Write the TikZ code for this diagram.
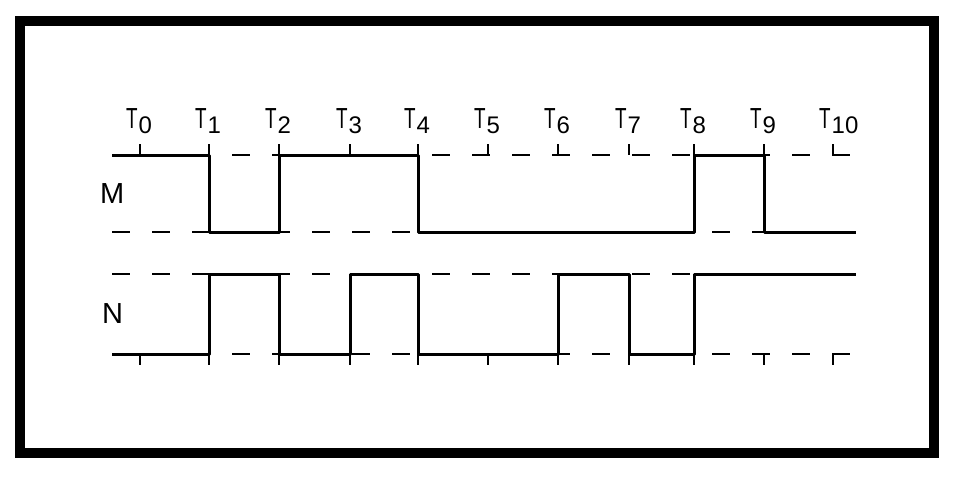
\documentclass[tikz,border=0pt]{standalone}
\usepackage{graphicx}
\usepackage{fontspec}
\setmainfont{Liberation Sans}
\newcommand{\Tlab}[1]{\scalebox{0.65}[1]{T}\kern1pt\raisebox{-5pt}{\fontsize{24}{24}\selectfont #1}}
\begin{document}
\begin{tikzpicture}[x=1pt,y=-1pt,
  frame/.style={line width=10pt},
  sig/.style={line width=3pt, line join=round},
  refline/.style={line width=2.2pt, dash pattern=on 18pt off 22pt},
  tickmark/.style={line width=2pt},
  tlabel/.style={anchor=base west, inner sep=0pt, font=\fontsize{29}{29}\selectfont},
  siglabel/.style={anchor=base west, inner sep=0pt, font=\fontsize{29}{29}\selectfont}]
\useasboundingbox (0,0) rectangle (972,480);
\draw[frame] (20,21) rectangle (934,453);
% reference (dashed) levels
\draw[refline] (112,155) -- (856,155);
\draw[refline] (112,232) -- (856,232);
\draw[refline] (112,274) -- (856,274);
\draw[refline] (112,354) -- (856,354);
% ticks and labels
\foreach \x [count=\i from 0] in {140,209,279,350,418,488,558,629,694,764,833} {
  \draw[tickmark] (\x,144) -- (\x,155);
  \draw[tickmark] (\x,354) -- (\x,365);
  \node[tlabel] (t\i) at (\x-14,128) {\Tlab{\i}};
}
\node[siglabel] (M) at (100,203) {M};
\node[siglabel] (N) at (102,323) {N};
% signal M
\draw[sig] (112,155) -- (209,155) -- (209,232) -- (279,232) -- (279,155) -- (418,155)
  -- (418,232) -- (694,232) -- (694,155) -- (764,155) -- (764,232) -- (856,232);
% signal N
\draw[sig] (112,354) -- (209,354) -- (209,274) -- (279,274) -- (279,354) -- (350,354)
  -- (350,274) -- (418,274) -- (418,354) -- (558,354) -- (558,274) -- (629,274)
  -- (629,354) -- (694,354) -- (694,274) -- (856,274);
\end{tikzpicture}
\end{document}
